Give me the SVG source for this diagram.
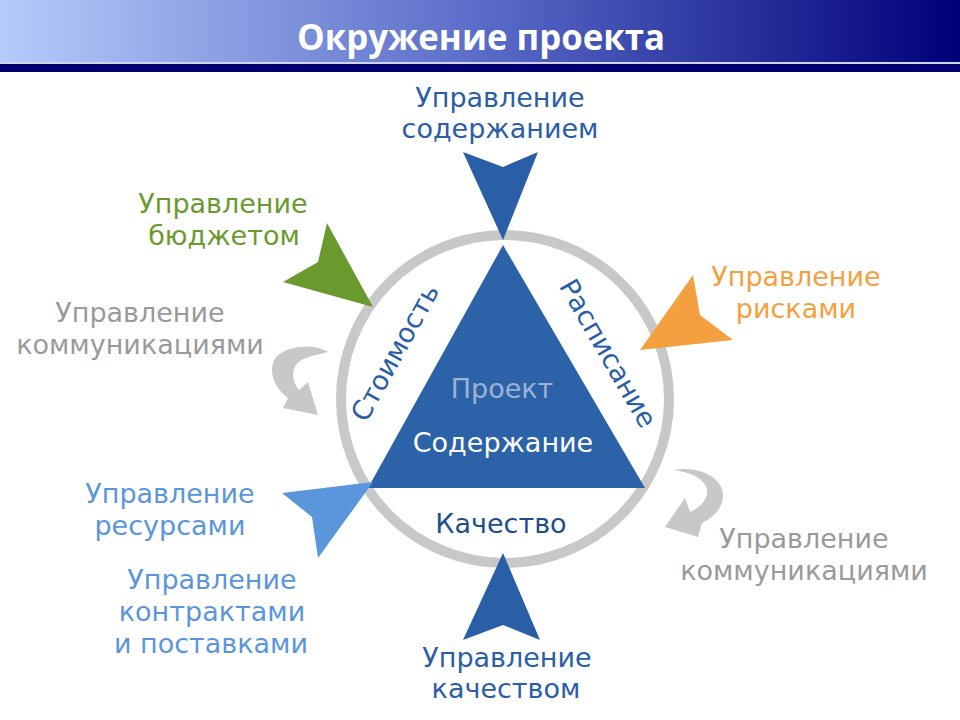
<svg xmlns="http://www.w3.org/2000/svg" width="960" height="720" viewBox="0 0 960 720">
<defs>
<linearGradient id="hdr" x1="0" y1="0" x2="1" y2="0">
<stop offset="0" stop-color="#b4ccfa"/>
<stop offset="0.5" stop-color="#5a6cc8"/>
<stop offset="1" stop-color="#000078"/>
</linearGradient>
</defs>
<style>
text{font-family:"DejaVu Sans","Noto Sans",sans-serif;font-size:27px;text-anchor:middle}
.blue{fill:#2a5ea6}
.green{fill:#6a9a2e}
.gray{fill:#9a9a9a}
.orange{fill:#f5a040}
.lblue{fill:#5b96dc}
.garrow{fill:#c8c8c8}
</style>
<rect width="960" height="720" fill="#ffffff"/>
<g id="header">
<rect x="0" y="0" width="960" height="62" fill="url(#hdr)"/>
<rect x="0" y="62" width="960" height="2" fill="#d0d4e8"/>
<rect x="0" y="64" width="960" height="8" fill="#00006e"/>
<text x="481" y="50" style="font-family:'Open Sans','Liberation Sans',sans-serif;font-size:35px;font-weight:700;fill:#ffffff" textLength="368" lengthAdjust="spacingAndGlyphs">Окружение проекта</text>
</g>
<g id="ring">
<circle cx="505" cy="399" r="164" fill="none" stroke="#c8c8c8" stroke-width="10"/>
</g>
<g id="project">
<polygon points="503,245 368,488 645,488" fill="#2c62a8"/>
<text x="502" y="398" style="fill:#9cb2d4">Проект</text>
<text x="503" y="452" style="fill:#ffffff">Содержание</text>
<text x="501" y="533" style="fill:#1f4e8c">Качество</text>
<text class="blue" transform="translate(403,357) rotate(-61)">Стоимость</text>
<text class="blue" transform="translate(600,358) rotate(60)">Расписание</text>
</g>
<g id="connectors">
<polygon class="blue" points="463,152 503,167 538,152 503,240"/>
<polygon class="green" points="327,223 318,262 283,282 373,307"/>
<polygon class="orange" points="693,275 700,315 733,340 640,350"/>
<polygon class="lblue" points="282,493 312,517 318,558 373,482"/>
<polygon class="blue" points="503,553 463,640 503,625 540,640"/>
<path class="garrow" d="M328,352 C315,344 290,344 276,357 C268,368 272,386 288,398 L283,408 L318,415 L308,382 L299,390 C291,380 291,368 300,361 C308,356 318,355 328,352 Z"/>
<path class="garrow" d="M673,470 C700,465 723,478 723,495 C723,508 714,517 702,523 L698,537 L665,527 L685,498 L690,512 C703,506 710,496 706,486 C700,476 688,472 673,470 Z"/>
</g>
<g id="scope">
<text class="blue" x="500" y="107">Управление</text>
<text class="blue" x="500" y="138">содержанием</text>
</g>
<g id="budget">
<text class="green" x="223" y="213">Управление</text>
<text class="green" x="224" y="245">бюджетом</text>
</g>
<g id="comm-left">
<text class="gray" x="140" y="322">Управление</text>
<text class="gray" x="140" y="354">коммуникациями</text>
</g>
<g id="risk">
<text class="orange" x="796" y="286">Управление</text>
<text class="orange" x="796" y="318">рисками</text>
</g>
<g id="resources">
<text class="lblue" x="170" y="503">Управление</text>
<text class="lblue" x="170" y="535">ресурсами</text>
</g>
<g id="contracts">
<text class="lblue" x="212" y="589">Управление</text>
<text class="lblue" x="212" y="621">контрактами</text>
<text class="lblue" x="211" y="653">и поставками</text>
</g>
<g id="comm-right">
<text class="gray" x="804" y="548">Управление</text>
<text class="gray" x="804" y="580">коммуникациями</text>
</g>
<g id="quality">
<text class="blue" x="507" y="667">Управление</text>
<text class="blue" x="506" y="698">качеством</text>
</g>
</svg>
